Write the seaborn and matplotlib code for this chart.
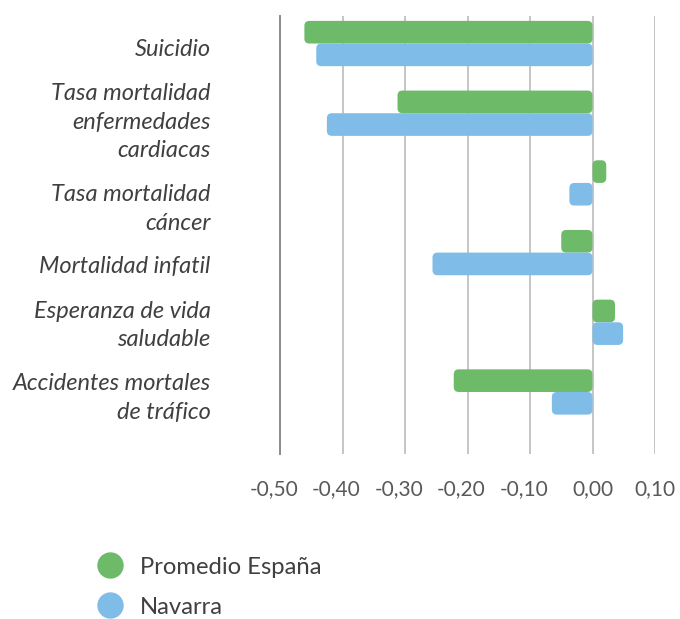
import matplotlib
matplotlib.use('Agg')
import matplotlib.pyplot as plt
import seaborn as sns
import pandas as pd
from matplotlib.patches import FancyBboxPatch
from matplotlib.lines import Line2D
from matplotlib.transforms import ScaledTranslation

# ---- data ----
categories = ["Suicidio",
              "Tasa mortalidad\nenfermedades\ncardiacas",
              "Tasa mortalidad\ncáncer",
              "Mortalidad infatil",
              "Esperanza de vida\nsaludable",
              "Accidentes mortales\nde tráfico"]
series = ["Promedio España", "Navarra"]
espana = [-0.461, -0.312, 0.022, -0.050, 0.036, -0.222]
navarra = [-0.442, -0.425, -0.037, -0.256, 0.049, -0.065]
xticks = [-0.5, -0.4, -0.3, -0.2, -0.1, 0.0, 0.1]
xtick_labels = ["-0,50", "-0,40", "-0,30", "-0,20", "-0,10", "0,00", "0,10"]

GREEN = "#6dbb69"
BLUE = "#7fbde8"

sns.set_theme(style="white")
plt.rcParams['font.family'] = ['Lato', 'DejaVu Sans']

fig = plt.figure(figsize=(6.8, 6.19), dpi=100)
W, H = 680, 619
ax = fig.add_axes([280 / W, 1 - 454 / H, 375 / W, 438 / H])

df = pd.DataFrame({
    "categoria": categories * 2,
    "valor": espana + navarra,
    "serie": [series[0]] * len(categories) + [series[1]] * len(categories),
})
sns.barplot(data=df, x="valor", y="categoria", hue="serie",
            palette=[GREEN, BLUE], width=0.65, orient="h", errorbar=None,
            legend=False, saturation=1, ax=ax)

ax.set_xlim(-0.5, 0.1)
ax.set_ylim(5.89, -0.395)

# rounded bars
p0 = ax.transData.transform((0, 0))
p1 = ax.transData.transform((1, 1))
ppx = abs(p1[0] - p0[0])
ppy = abs(p1[1] - p0[1])
r = 5 / ppx
for patch in list(ax.patches):
    x0 = patch.get_x(); w = patch.get_width()
    y0 = patch.get_y(); h = patch.get_height()
    xl, xr = min(x0, x0 + w), max(x0, x0 + w)
    yb, yt = min(y0, y0 + h), max(y0, y0 + h)
    fb = FancyBboxPatch((xl, yb), xr - xl, yt - yb,
                        boxstyle=f"round,pad=0,rounding_size={r}",
                        mutation_aspect=ppx / ppy,
                        facecolor=patch.get_facecolor(), edgecolor="none",
                        zorder=2)
    ax.add_patch(fb)
    patch.remove()

# grid and spines
ax.set_xticks(xticks)
ax.set_xticklabels(xtick_labels)
ax.grid(axis="x", color="#c0c0c0", linewidth=1.3)
ax.grid(axis="y", visible=False)
ax.set_axisbelow(True)
for s in ["top", "right", "bottom"]:
    ax.spines[s].set_visible(False)
ax.spines["left"].set_color("#8c8c8c")
ax.spines["left"].set_linewidth(1.4)
ax.spines["left"].set_zorder(3)
ax.set_xlabel("")
ax.set_ylabel("")

ax.tick_params(axis="y", length=0, pad=50, labelsize=17, labelcolor="#404040")
ax.tick_params(axis="x", length=0, pad=18, labelsize=15, labelcolor="#595959")
for lab in ax.get_yticklabels():
    lab.set_fontstyle("italic")
    lab.set_linespacing(1.45)

# label offsets (Excel layout)
yoffs = [3.5, 3, 20, 12, -2.5, 0.5]
for lab, off in zip(ax.get_yticklabels(), yoffs):
    lab.set_transform(lab.get_transform() + ScaledTranslation(0, -off / 100, fig.dpi_scale_trans))
for lab, v in zip(ax.get_xticklabels(), xticks):
    if v < 0:
        lab.set_transform(lab.get_transform() + ScaledTranslation(-0.06, 0, fig.dpi_scale_trans))

# legend
handles = [Line2D([], [], marker="o", linestyle="", markersize=19,
                  markerfacecolor=c, markeredgecolor="none") for c in (GREEN, BLUE)]
fig.legend(handles, series, loc="upper left", bbox_to_anchor=(98 / W, 1 - 556.5 / H),
           frameon=False, prop={"size": 17.2}, labelcolor="#404040",
           handlelength=1.0, handletextpad=0.77, labelspacing=0.8,
           borderpad=0, borderaxespad=0)

fig.savefig("out.png", dpi=100)
